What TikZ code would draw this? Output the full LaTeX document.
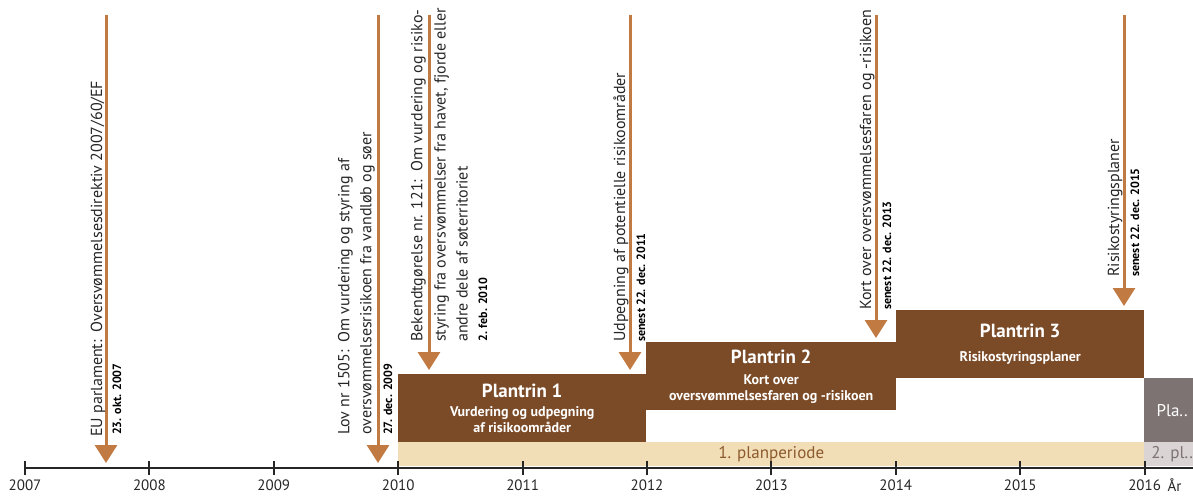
\documentclass[tikz,border=0pt]{standalone}
\usepackage{fontspec}
\setmainfont{PT Sans}
\usepackage{tikz}
\usepackage{xcolor}
\usetikzlibrary{arrows.meta,positioning,calc}
\definecolor{planbrown}{HTML}{7B4A27}
\definecolor{planorange}{HTML}{C17A41}
\definecolor{planbeige}{HTML}{F2DEB6}
\definecolor{plangrey}{HTML}{7E7373}
\definecolor{planlightgrey}{HTML}{DAD4D4}
\definecolor{plantext}{HTML}{8C5A2E}

\begin{document}
\begin{tikzpicture}[
        x=1pt, y=-1pt,
        phase/.style={
          fill=planbrown,
          text=white,
          anchor=north west,
          inner sep=0pt,
          align=center,
          font=\bfseries\fontsize{14}{16}\selectfont
        },
        period/.style={
          anchor=north west,
          inner sep=0pt,
          minimum height=24pt,
          font=\fontsize{17}{19}\selectfont
        },
        arrow/.style={
          -{Triangle[length=18pt,width=22pt]},
          line width=3pt,
          planorange
        },
        label/.style={
          rotate=90,
          inner sep=0pt,
          align=left,
          text=black!85,
          font=\fontsize{16}{22}\selectfont
        },
        date/.style={
          rotate=90,
          inner sep=0pt,
          anchor=base west,
          font=\bfseries\fontsize{12}{14}\selectfont
        },
        year/.style={
          text=black!85,
          font=\fontsize{15}{17}\selectfont
        },
        axis/.style={
          line width=2pt,
          black!85
        }
      ]

      \path[use as bounding box] (0,0) rectangle (1193,495);
      \clip (0,0) rectangle (1193,495);

      % plantrin og planperioder
      \node[phase, minimum width=248pt, minimum height=68pt] (phase1) at (398,374)
        {{\fontsize{19}{22}\selectfont Plantrin 1}\\[3pt]Vurdering og udpegning\\af risikoområder};
      \node[phase, minimum width=250pt, minimum height=68pt] (phase2) at (646,342)
        {{\fontsize{19}{22}\selectfont Plantrin 2}\\[5pt]Kort over\\oversvømmelsesfaren og -risikoen};
      \node[phase, minimum width=248pt, minimum height=68pt] (phase3) at (896,310)
        {{\fontsize{19}{22}\selectfont Plantrin 3}\\[8pt]Risikostyringsplaner};
      \node[phase, fill=plangrey, font=\fontsize{17}{19}\selectfont, minimum width=56pt, minimum height=64pt] (phase4) at (1144,378) {Pla..};

      \node[period, fill=planbeige, text=plantext, minimum width=746pt] (period1) at (398,442) {1. planperiode};
      \node[period, fill=planlightgrey, text=plangrey, minimum width=56pt] (period2) at (1144,442) {2. pl..};

      % tidsakse
      \coordinate (axisstart) at (25,468);
      \coordinate (axisend) at (1193,468);
      \draw[axis] (axisstart) -- (axisend);
      \foreach \yr [count=\i from 0] in {2007,...,2016} {
        \draw[axis] (25+124.4*\i,461) -- ++(0,14);
        \node[year] (year\yr) at (25+124.4*\i,485) {\yr};
      }
      \node[year, anchor=west] (yearlabel) at (1164,485) {År};

      % pile
      \coordinate (eutop) at (106,15);   \coordinate (eutip) at (106,463);
      \coordinate (lovtop) at (378,15);  \coordinate (lovtip) at (378,463);
      \coordinate (bektop) at (429,15);  \coordinate (bektip) at (429,370);
      \coordinate (udptop) at (630,15);  \coordinate (udptip) at (630,370);
      \coordinate (korttop) at (876,15); \coordinate (korttip) at (876,338);
      \coordinate (risktop) at (1124,15); \coordinate (risktip) at (1124,306);

      \draw[arrow] (eutop) -- (eutip);
      \draw[arrow] (lovtop) -- (lovtip);
      \draw[arrow] (bektop) -- (bektip);
      \draw[arrow] (udptop) -- (udptip);
      \draw[arrow] (korttop) -- (korttip);
      \draw[arrow] (risktop) -- (risktip);

      % tekster ved pilene
      \node[label, anchor=base west] (eutext) at (102,437) {EU parlament:\enspace Oversvømmelsesdirektiv 2007/60/EF};
      \node[date] (eudate) at (121,435) {23. okt. 2007};

      \node[label, anchor=south west] (lovtext) at (375,435) {Lov nr 1505:\enspace Om vurdering og styring af\\oversvømmelsesrisikoen fra vandløb og søer};
      \node[date] (lovdate) at (392,435) {27. dec. 2009};

      \node[label, anchor=south west] (bektext) at (426,342) {Bekendtgørelse nr. 121:\enspace Om vurdering og risiko-};
      \node[label, anchor=north west] (bekmore) at (434,342) {styring fra oversvømmelser fra havet, fjorde eller\\andre dele af søterritoriet};
      \node[date] (bekdate) at (487,342) {2. feb. 2010};

      \node[label, anchor=base west] (udptext) at (625,342) {Udpegning af potentielle risikoområder};
      \node[date] (udpdate) at (645,342) {senest 22. dec. 2011};

      \node[label, anchor=base west] (korttext) at (871,310) {Kort over oversvømmelsesfaren og -risikoen};
      \node[date] (kortdate) at (891,310) {senest 22. dec. 2013};

      \node[label, anchor=base west] (risktext) at (1119,277) {Risikostyringsplaner};
      \node[date] (riskdate) at (1139,277) {senest 22. dec. 2015};

      \end{tikzpicture}
\end{document}
